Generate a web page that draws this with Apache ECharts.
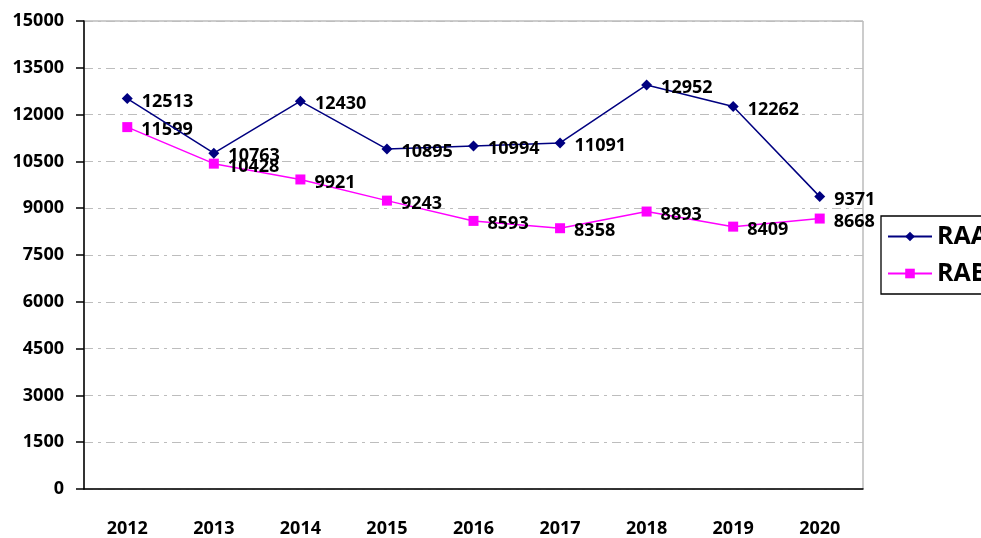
<!DOCTYPE html>
<html>
<head>
<meta charset="utf-8">
<script src="https://cdn.jsdelivr.net/npm/echarts@6/dist/echarts.min.js"></script>
<style>
  html, body { margin: 0; padding: 0; background: #fff; }
  #chart { width: 981px; height: 538px; }
</style>
</head>
<body>
<div id="chart"></div>
<script>
// 数据
const years = ['2012', '2013', '2014', '2015', '2016', '2017', '2018', '2019', '2020']
const raa = [12513, 10763, 12430, 10895, 10994, 11091, 12952, 12262, 9371]
const rab = [11599, 10428, 9921, 9243, 8593, 8358, 8893, 8409, 8668]

const fontFamily = '"Open Sans", "DejaVu Sans", sans-serif'

const chart = echarts.init(document.getElementById('chart'))

const labelStyle = {
  show: true,
  position: 'right',
  distance: 9,
  offset: [0, 3],
  color: '#000',
  fontFamily: fontFamily,
  fontWeight: 'bold',
  fontSize: 18,
}

const option = {
  animation: false,
  backgroundColor: '#fff',
  grid: {
    left: 84,
    right: 118,
    top: 21,
    bottom: 49,
    show: true,
    borderColor: '#999',
    borderWidth: 1,
  },
  legend: {
    orient: 'vertical',
    left: 881,
    top: 216,
    itemWidth: 44,
    itemHeight: 12,
    itemGap: 12,
    padding: [8, 10, 8, 6],
    borderColor: '#000',
    borderWidth: 1.3,
    textStyle: {
      color: '#000',
      fontFamily: fontFamily,
      fontWeight: 'bold',
      fontSize: 25,
    },
    data: ['RAA', 'RAB'],
  },
  xAxis: {
    type: 'category',
    data: years,
    boundaryGap: true,
    axisLine: { lineStyle: { color: '#000', width: 1.5 } },
    axisTick: { length: 8, lineStyle: { color: '#000', width: 1.5 } },
    axisLabel: {
      margin: 31,
      color: '#000',
      fontFamily: fontFamily,
      fontWeight: 'bold',
      fontSize: 18,
    },
  },
  yAxis: {
    type: 'value',
    min: 0,
    max: 15000,
    interval: 1500,
    axisLine: { show: true, lineStyle: { color: '#000', width: 1.5 } },
    axisTick: { show: true, length: 8, lineStyle: { color: '#000', width: 1.5 } },
    axisLabel: {
      margin: 20,
      color: '#000',
      fontFamily: fontFamily,
      fontWeight: 'bold',
      fontSize: 18,
      formatter: (v) => String(v),
    },
    splitLine: {
      lineStyle: { color: '#bdbdbd', width: 1.2, type: [9, 5, 3, 5] },
    },
  },
  series: [
    {
      name: 'RAA',
      type: 'line',
      data: raa,
      symbol: 'diamond',
      symbolSize: 11,
      itemStyle: { color: '#000080' },
      lineStyle: { color: '#000080', width: 1.5 },
      label: labelStyle,
      z: 3,
    },
    {
      name: 'RAB',
      type: 'line',
      data: rab,
      symbol: 'rect',
      symbolSize: 10,
      itemStyle: { color: '#ff00ff' },
      lineStyle: { color: '#ff00ff', width: 1.5 },
      label: labelStyle,
      z: 2,
    },
  ],
}

option && chart.setOption(option)
</script>
</body>
</html>
